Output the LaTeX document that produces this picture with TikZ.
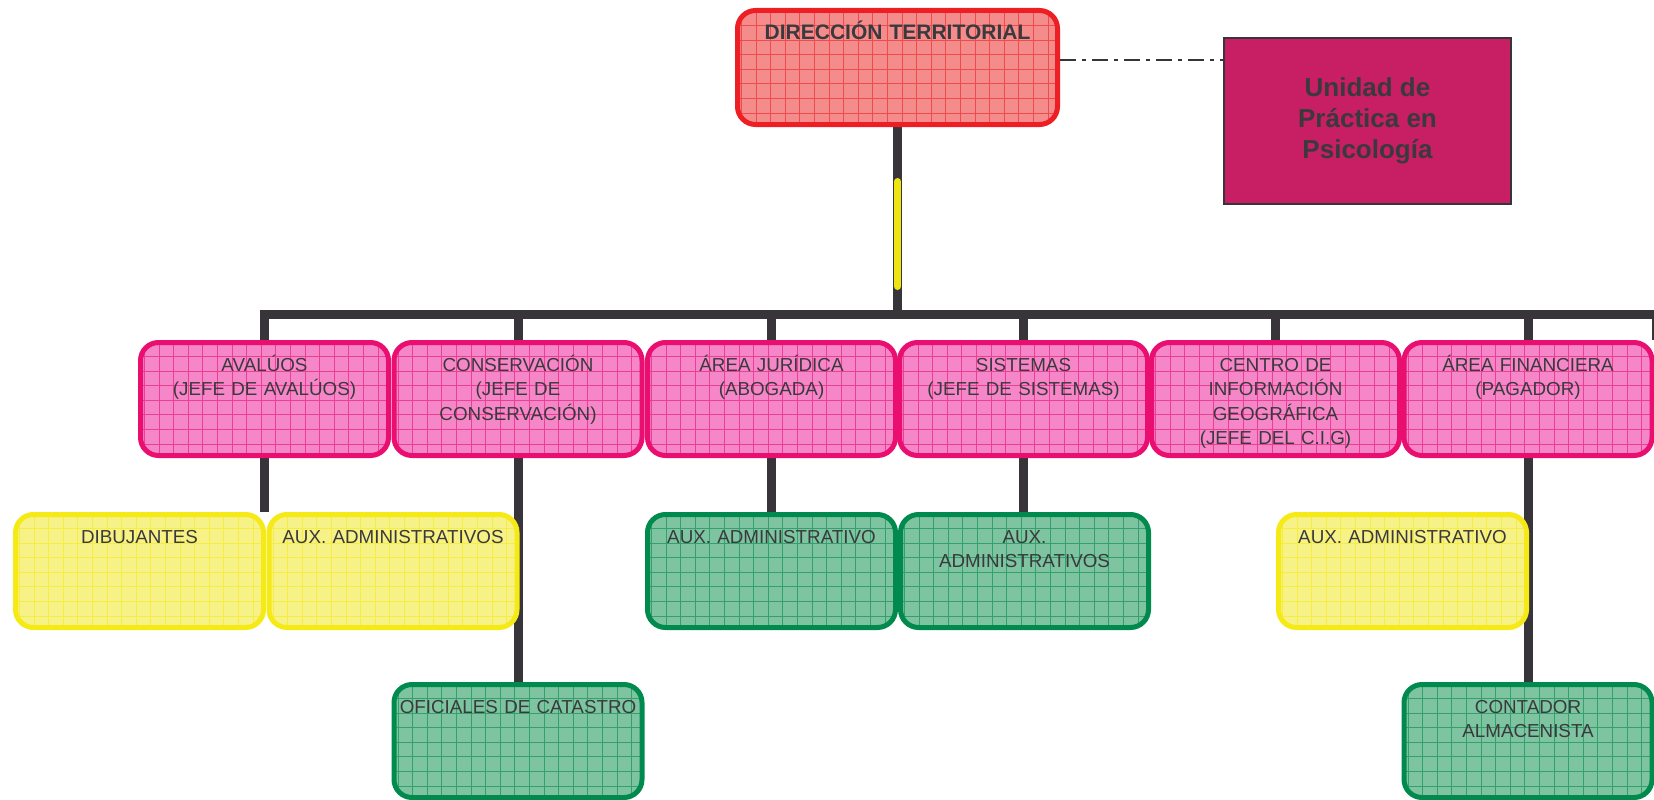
\documentclass[tikz,border=0pt]{standalone}
\usepackage{fontspec}
\setmainfont{Liberation Sans}
\usetikzlibrary{positioning,calc,backgrounds}
\definecolor{linedark}{RGB}{55, 53, 58}
\definecolor{textdark}{RGB}{58, 58, 62}
\definecolor{dirfill}{RGB}{245, 140, 140}
\definecolor{dirline}{RGB}{237, 30, 36}
\definecolor{jefefill}{RGB}{245, 135, 200}
\definecolor{jefeline}{RGB}{234, 14, 112}
\definecolor{auxfill}{RGB}{247, 242, 135}
\definecolor{auxline}{RGB}{245, 234, 22}
\definecolor{opfill}{RGB}{126, 196, 160}
\definecolor{opline}{RGB}{0, 138, 78}
\definecolor{unidadfill}{RGB}{200, 30, 100}
\definecolor{trunkyellow}{RGB}{238, 228, 20}

\tikzset{
  gridbox/.style={draw=#1line, fill=#1fill, line width=5pt, rounded corners=18pt,
    minimum width=248pt, text width=240pt, align=center, inner sep=4pt,
    text height=24.5pt, text depth=80.5pt, anchor=north, text=textdark,
    font=\fontsize{18.8}{24.5}\selectfont,
    path picture={\draw[#1line, line width=0.9pt, opacity=0.6]
      (path picture bounding box.south west) grid[step=14.6pt]
      (path picture bounding box.north east);}},
  link/.style={draw=linedark, line width=9pt},
}

\begin{document}
\begin{tikzpicture}[x=1pt, y=-1pt]
    \useasboundingbox (0,0) rectangle (1654,800);

    \node[gridbox=dir, minimum width=320pt, text width=312pt, text height=25.5pt,
      text depth=80.5pt, font=\bfseries\fontsize{21}{24}\selectfont] (dir) at (897.5,8) {DIRECCIÓN TERRITORIAL};
    \node[draw=linedark, fill=unidadfill, line width=2pt, minimum width=287pt, minimum height=166pt,
      align=center, text=textdark, font=\bfseries\fontsize{26}{31}\selectfont] (unidad) at (1367.5,121)
      {Unidad de\\Práctica en\\Psicología};

    \node[gridbox=jefe] (avaluos) at (264.5,340) {AVALÚOS\\(JEFE DE AVALÚOS)};
    \node[gridbox=jefe] (conservacion) at (518,340) {CONSERVACIÓN\\(JEFE DE\\CONSERVACIÓN)};
    \node[gridbox=jefe] (juridica) at (771.5,340) {ÁREA JURÍDICA\\(ABOGADA)};
    \node[gridbox=jefe] (sistemas) at (1023.5,340) {SISTEMAS\\(JEFE DE SISTEMAS)};
    \node[gridbox=jefe] (cig) at (1275.5,340) {CENTRO DE\\INFORMACIÓN\\GEOGRÁFICA\\(JEFE DEL C.I.G)};
    \node[gridbox=jefe] (financiera) at (1528,340) {ÁREA FINANCIERA\\(PAGADOR)};

    \node[gridbox=aux] (dibujantes) at (139.5,512) {DIBUJANTES};
    \node[gridbox=aux] (auxavaluos) at (393,512) {AUX. ADMINISTRATIVOS};
    \node[gridbox=op] (auxjuridica) at (771.5,512) {AUX. ADMINISTRATIVO};
    \node[gridbox=op] (auxsistemas) at (1024.5,512) {AUX.\\ADMINISTRATIVOS};
    \node[gridbox=aux] (auxfinanciera) at (1402.5,512) {AUX. ADMINISTRATIVO};

    \node[gridbox=op] (oficiales) at (518,682) {OFICIALES DE CATASTRO};
    \node[gridbox=op] (contador) at (1528,682) {CONTADOR\\ALMACENISTA};

    \coordinate (bar) at (0,314);
    \coordinate (edge) at (1656,340);

    \begin{scope}[on background layer]
        \draw[link] (dir.south) -- (dir.south |- bar);
        \draw[link] (avaluos.north) |- (bar -| edge) -- (edge);
        \foreach \n in {conservacion, juridica, sistemas, cig, financiera}
            \draw[link] (\n.north |- bar) -- (\n.north);
        \draw[link] (avaluos.south) -- (avaluos.south |- dibujantes.north);
        \draw[link] (conservacion.south) -- (oficiales.north);
        \draw[link] (juridica.south) -- (auxjuridica.north);
        \draw[link] (sistemas.south) -- (sistemas.south |- auxsistemas.north);
        \draw[link] (financiera.south) -- (contador.north);
    \end{scope}
    \draw[trunkyellow, line width=7pt, line cap=round] (dir.south) ++(0,54.5) -- ++(0,105);
    \draw[linedark, line width=1.8pt, dash pattern=on 16pt off 6pt on 4pt off 6pt]
      (dir.east) ++(0,-7.5) -- (unidad.west |- 0,60);
\end{tikzpicture}
\end{document}
